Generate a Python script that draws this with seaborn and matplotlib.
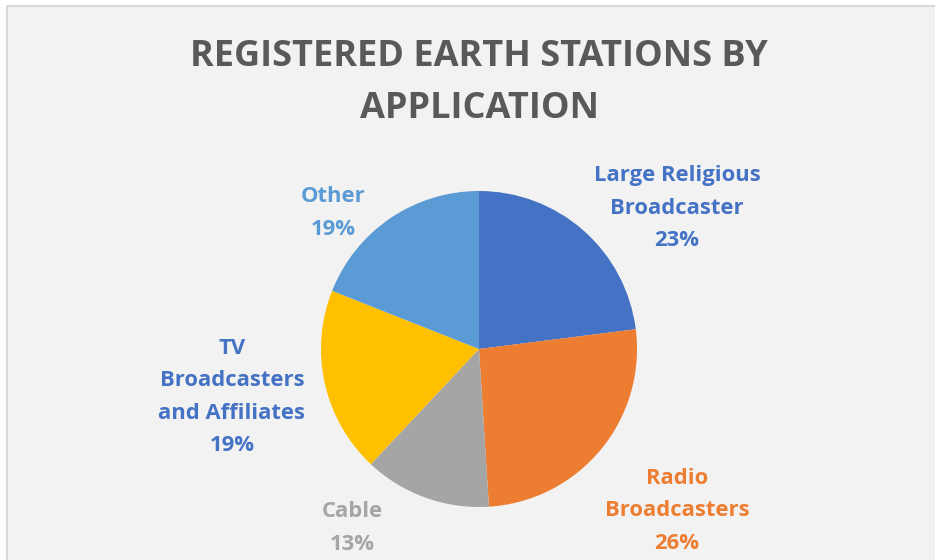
import matplotlib
matplotlib.use("Agg")
import matplotlib.pyplot as plt
import seaborn as sns
from matplotlib.patches import Rectangle

# =====================================================
# DATA
# =====================================================

categories = [
    "Large Religious\nBroadcaster",
    "Radio\nBroadcasters",
    "Cable",
    "TV\nBroadcasters\nand Affiliates",
    "Other",
]
shares = [23, 26, 13, 19, 19]

slice_colors = ["#4472C4", "#ED7D31", "#A5A5A5", "#FFC000", "#5B9BD5"]
label_colors = ["#4472C4", "#ED7D31", "#A5A5A5", "#4472C4", "#5B9BD5"]

# label centres in pixels (x from left, y from top)
label_pos = [(677, 208), (677, 511), (352, 528), (232, 397), (333, 213)]

TITLE = "REGISTERED EARTH STATIONS BY\nAPPLICATION"

# =====================================================
# THEME
# =====================================================

sns.set_theme(style="white")
plt.rcParams["font.family"] = ["Open Sans", "DejaVu Sans"]

W, H = 935, 560
fig = plt.figure(figsize=(W / 100, H / 100), dpi=100, facecolor="white")

# chart area background with thin border (cropped at right / bottom)
fig.patches.append(
    Rectangle(
        (7 / W, -0.1), 1.2, (H - 6) / H + 0.1,
        transform=fig.transFigure,
        facecolor="#F2F2F2",
        edgecolor="#D9D9D9",
        linewidth=1.5,
        zorder=-5,
    )
)

ax = fig.add_axes([0, 0, 1, 1], zorder=1)
ax.patch.set_alpha(0)

# =====================================================
# PIE
# =====================================================

ax.pie(
    shares,
    colors=slice_colors,
    startangle=90,
    counterclock=False,
    center=(479, H - 349),
    radius=158,
    wedgeprops=dict(linewidth=0),
    frame=True,
)
ax.set_xlim(0, W)
ax.set_ylim(0, H)
ax.set_aspect("equal")
ax.axis("off")

for cat, val, col, (x, y) in zip(categories, shares, label_colors, label_pos):
    ax.text(
        x, H - y,
        f"{cat}\n{val}%",
        ha="center", va="center",
        color=col,
        fontsize=15.8,
        fontweight="bold",
        linespacing=1.72,
    )

ax.text(
    479, H - 83,
    TITLE,
    ha="center", va="center",
    color="#595959",
    fontsize=26,
    fontweight="bold",
    linespacing=1.56,
)

fig.savefig("out.png", dpi=100, facecolor=fig.get_facecolor())
